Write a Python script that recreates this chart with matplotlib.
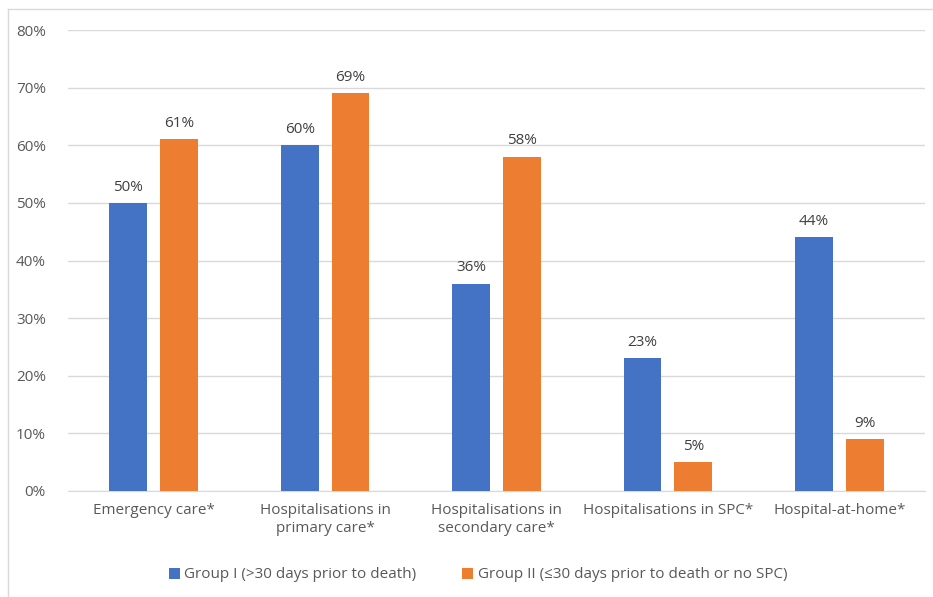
import numpy as np
import matplotlib.pyplot as plt
from matplotlib.lines import Line2D

plt.rcParams['font.family'] = ['Open Sans', 'DejaVu Sans']

categories = ["Emergency care*", "Hospitalisations in\nprimary care*",
              "Hospitalisations in\nsecondary care*", "Hospitalisations in SPC*",
              "Hospital-at-home*"]
group1 = [50, 60, 36, 23, 44]
group2 = [61, 69, 58, 5, 9]
labels = ["Group I (>30 days prior to death)",
          "Group II (\u226430 days prior to death or no SPC)"]
yticks = [0, 10, 20, 30, 40, 50, 60, 70, 80]

blue = '#4472C4'
orange = '#ED7D31'
text_col = '#595959'

fig = plt.figure(figsize=(9.33, 5.97), dpi=100)
ax = fig.add_axes([68 / 933, 1 - 491 / 597, 857 / 933, 461 / 597])

x = np.arange(len(categories))
w = 0.22
off = 0.148
b1 = ax.bar(x - off, group1, w, color=blue, label=labels[0], zorder=3)
b2 = ax.bar(x + off, group2, w, color=orange, label=labels[1], zorder=3)

for bars, vals in ((b1, group1), (b2, group2)):
    for r, v in zip(bars, vals):
        ax.annotate(f"{v}%", (r.get_x() + r.get_width() / 2, v),
                    xytext=(0, 6), textcoords='offset points',
                    ha='center', va='bottom', fontsize=11, color='#404040')

ax.set_xlim(-0.5, len(categories) - 0.5)
ax.set_ylim(0, 80)
ax.set_yticks(yticks)
ax.set_yticklabels([f"{t}%" for t in yticks])
ax.set_xticks(x)
ax.set_xticklabels(categories)
ax.tick_params(axis='both', length=0, labelsize=11, colors=text_col)
ax.tick_params(axis='y', pad=16)
ax.tick_params(axis='x', pad=9)
ax.grid(axis='y', color='#D9D9D9', linewidth=1, zorder=0)
for s in ['top', 'right', 'left']:
    ax.spines[s].set_visible(False)
ax.spines['bottom'].set_color('#D9D9D9')

fig.legend(handles=[b1, b2], loc='center', bbox_to_anchor=(478 / 933, 1 - 575 / 597),
           ncol=2, frameon=False, fontsize=11, labelcolor=text_col,
           handlelength=0.7, handleheight=0.7, handletextpad=0.3, columnspacing=3.0)

# outer frame (left and top edges visible)
fig.add_artist(Line2D([8 / 933, 8 / 933], [0, 1 - 9 / 597], color='#D9D9D9', lw=1))
fig.add_artist(Line2D([8 / 933, 1], [1 - 9 / 597, 1 - 9 / 597], color='#D9D9D9', lw=1))

fig.savefig('out.png', dpi=100)
